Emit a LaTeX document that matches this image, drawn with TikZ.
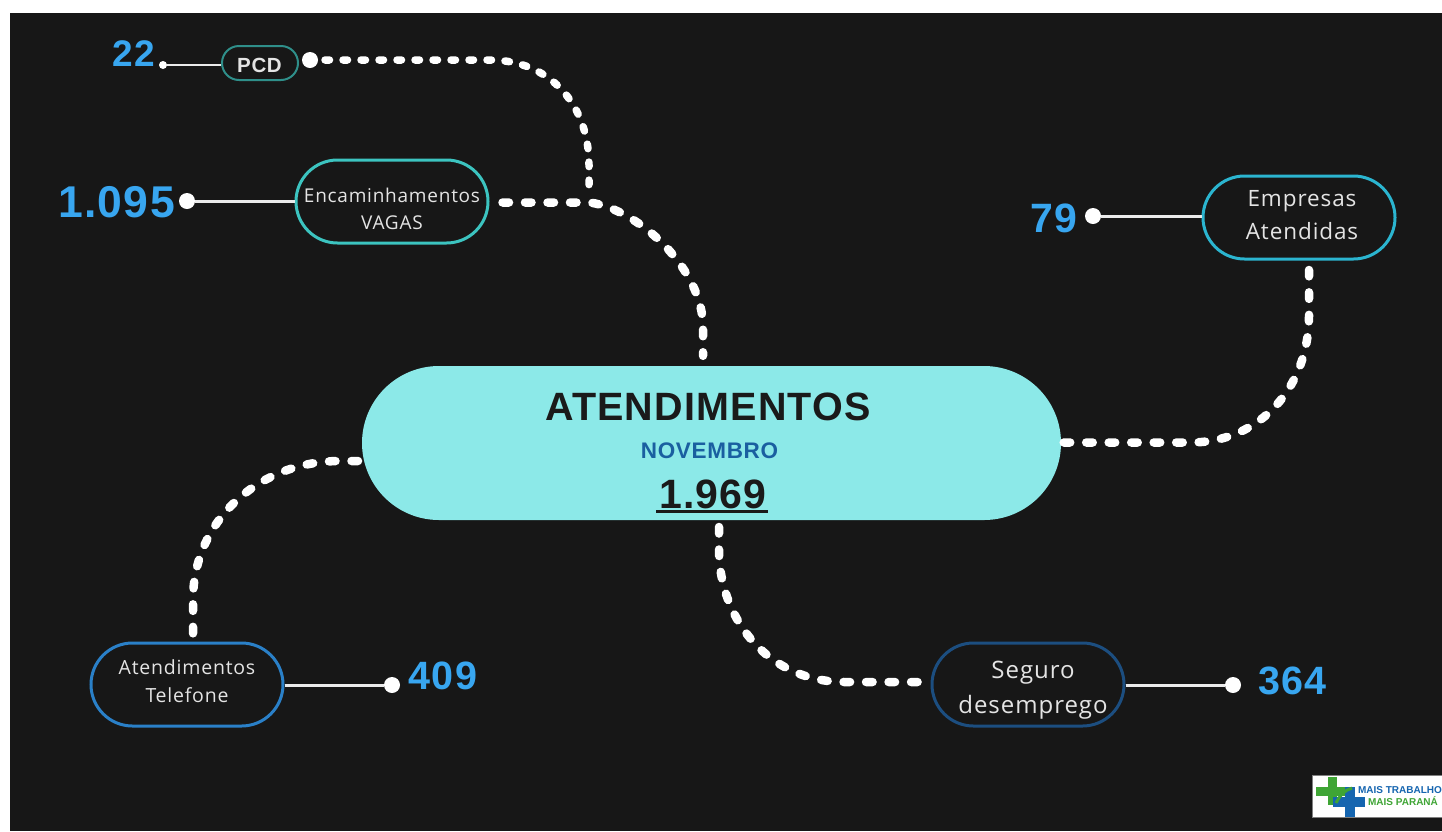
\documentclass[tikz,border=0pt]{standalone}
\usepackage{fontspec}
\setmainfont{Liberation Sans}
\newfontfamily\bodyfont[LetterSpace=4]{Open Sans}
\newfontfamily\numfont[LetterSpace=3]{Liberation Sans}
\usetikzlibrary{shapes.misc}
\definecolor{bgdark}{HTML}{171717}
\definecolor{numblue}{HTML}{38A6F0}
\definecolor{mainfill}{HTML}{8CE9E8}
\definecolor{darktxt}{HTML}{1A1A1A}
\definecolor{novblue}{HTML}{1A5FA0}
\definecolor{lgreen}{HTML}{3FA535}
\definecolor{lblue}{HTML}{1565B0}
\definecolor{pcdteal}{HTML}{2F8F8A}
\definecolor{encteal}{HTML}{3CC4C0}
\definecolor{empcyan}{HTML}{2BB5D0}
\definecolor{telblue}{HTML}{2A80C8}
\definecolor{segnavy}{HTML}{1C4E80}
\definecolor{softwhite}{HTML}{E4E4E4}
\tikzset{
  x=1pt,y=-1pt,
  pill/.style={rounded rectangle,draw=#1,line width=3pt,fill=bgdark,inner sep=0pt,
    minimum width=192pt,minimum height=83pt},
  pilltext/.style 2 args={inner sep=0pt,align=center,text=softwhite,
    font=\bodyfont\fontsize{#1}{#2}\selectfont},
  num/.style={text=numblue,inner sep=0pt,font=\numfont\bfseries\fontsize{#1}{#1}\selectfont},
  dotted link/.style={draw=white,line width=8.5pt,line cap=round,dash pattern=on 6.5pt off 16pt},
  small link/.style={draw=white,line width=7.5pt,line cap=round,dash pattern=on 4.5pt off 13.5pt},
  stem/.style={draw=white!92!black,line width=3pt},
  enddot/.style={circle,fill=white,inner sep=0pt,minimum size=#1},
  logotext/.style={inner sep=0pt,font=\bfseries\fontsize{10}{10}\selectfont},
}
\begin{document}
\begin{tikzpicture}
\useasboundingbox (0,0) rectangle (1442,831);
\fill[white] (0,0) rectangle (1442,831);
\fill[bgdark] (10,13) rectangle (1442,831);
% dashed links (under the main node)
\node[enddot=16pt] (dpcd) at (310,60) {};
\coordinate (pcdend) at (589,196);
\draw[small link] ([xshift=15pt]dpcd.center) -- (490,60) .. controls (550,60) and (589,105) .. (589,165) -- (pcdend);
% main node
\node[rounded rectangle,fill=mainfill,minimum width=699pt,minimum height=154pt,inner sep=0pt] (main) at (711.5,443) {};
\node[inner sep=0pt,text=darktxt,font=\numfont\bfseries\fontsize{39.5}{39.5}\selectfont] (title) at (708,407) {ATENDIMENTOS};
\node[inner sep=0pt,text=novblue,font=\numfont\bfseries\fontsize{22.5}{22.5}\selectfont] (month) at (709.5,451) {NOVEMBRO};
\node[inner sep=0pt,text=darktxt,font=\numfont\bfseries\fontsize{41}{41}\selectfont] (total) at (713,494) {1.969};
\coordinate (ul) at (0,511);
\draw[darktxt,line width=3pt,shorten <=-3pt,shorten >=-1pt] (total.west |- ul) -- (total.east |- ul);
% pills
\node[pill=pcdteal,minimum width=76pt,minimum height=34pt,line width=2pt] (pcd) at (260,63) {};
\node[inner sep=0pt,text=softwhite,font=\numfont\bfseries\fontsize{20.5}{20.5}\selectfont] (pcdtext) at (259.5,65.5) {PCD};
\node[pill=encteal] (enc) at (392,201.5) {};
\node[pilltext={19}{27}] (enctext) at (392,208.5) {Encaminhamentos\\VAGAS};
\node[pill=empcyan] (emp) at (1299,217.5) {};
\node[pilltext={22.5}{33}] (emptext) at (1302,215.5) {Empresas\\Atendidas};
\node[pill=telblue] (tel) at (187,684.5) {};
\node[pilltext={19.5}{28}] (teltext) at (187,681) {Atendimentos\\Telefone};
\node[pill=segnavy] (seg) at (1028,684.5) {};
\node[pilltext={24}{35}] (segtext) at (1033,690) {Seguro\\desemprego};
% end dots
\node[enddot=8pt] (d22) at (163,65) {};
\node[enddot=16pt] (d1095) at (187,201) {};
\node[enddot=16pt] (d79) at (1093,216) {};
\node[enddot=16pt] (d409) at (392,685) {};
\node[enddot=16pt] (d364) at (1233,685) {};
% values
\node[num=37] (v22) at (134,54) {22};
\node[num=44.5] (v1095) at (116.5,202) {1.095};
\node[num=41] (v79) at (1054,218) {79};
\node[num=39.5] (v409) at (443,676) {409};
\node[num=39.5] (v364) at (1292.5,681) {364};
% stems
\draw[stem,line width=2pt] (d22) -- (pcd.west |- d22);
\draw[stem] (d1095) -- (enc.west |- d1095);
\draw[stem] (d79) -- (emp.west |- d79);
\draw[stem] (tel.east |- d409) -- (d409);
\draw[stem] (seg.east |- d364) -- (d364);
% dashed links
\draw[dotted link] ([xshift=13pt]enc.east |- 0,202.5) -- (590,202.5) .. controls (640,210) and (703,270) .. (703,327) -- ([yshift=10pt]main.north -| 703,0);
\draw[dotted link] ([xshift=2.5pt]main.east |- 0,442.5) -- (1190,442.5) .. controls (1262,442.5) and (1309,385) .. (1309,315) -- (1309,270);
\draw[dotted link] (719,527) -- (719,550) .. controls (719,615) and (765,682) .. (845,682) -- ([xshift=-12pt]seg.west |- 0,682);
\draw[dotted link] (358,461) -- (340,461) .. controls (260,461) and (193,520) .. (193,600) -- (193,637);
% logo
\fill[white] (1312,775) rectangle (1442,817);
\draw[gray,line width=0.6pt] (1442,775) -- (1312,775) -- (1312,817) -- (1442,817);
\fill[lgreen] (1328,777) rectangle (1337,805);
\fill[lgreen] (1316,787) rectangle (1350,796);
\fill[lblue] (1345,787) rectangle (1355,817);
\fill[lblue] (1333,797) rectangle (1365,807);
\draw[lgreen,line width=3pt] (1336,803) .. controls (1340,795) and (1345,790) .. (1352,788);
\node[logotext,text=lblue] (logo1) at (1400,790) {MAIS TRABALHO};
\node[logotext,text=lgreen] (logo2) at (1403,801.5) {MAIS PARANÁ};
\end{tikzpicture}
\end{document}
